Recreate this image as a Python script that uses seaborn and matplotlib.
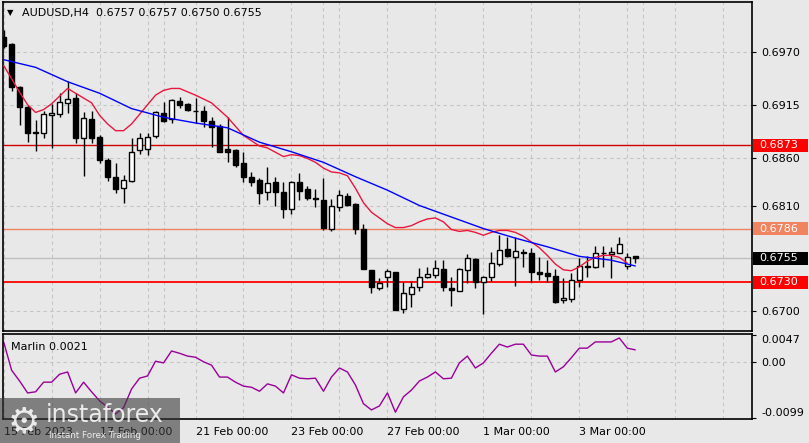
import numpy as np
import pandas as pd
import seaborn as sns
import matplotlib.pyplot as plt
import matplotlib.transforms as mtransforms
from matplotlib.patches import Rectangle

# AUDUSD H4 candles (one per 4 hours, bar 0 = 15 Feb 00:00)
opens = [0.6986, 0.6978, 0.6933, 0.6913, 0.6887, 0.6886, 0.6904, 0.6905, 0.6917, 0.6922,
         0.6880, 0.6900, 0.6881, 0.6857, 0.6840, 0.6828, 0.6836, 0.6868, 0.6869, 0.6882,
         0.6906, 0.6900, 0.6919, 0.6916, 0.6909, 0.6909, 0.6898, 0.6893, 0.6869, 0.6868,
         0.6854, 0.6840, 0.6837, 0.6824, 0.6834, 0.6824, 0.6806, 0.6834, 0.6827, 0.6818,
         0.6816, 0.6786, 0.6808, 0.6820, 0.6812, 0.6786, 0.6743, 0.6724, 0.6736, 0.6741,
         0.6702, 0.6718, 0.6725, 0.6736, 0.6738, 0.6744, 0.6724, 0.6721, 0.6743, 0.6754,
         0.6730, 0.6736, 0.6749, 0.6765, 0.6756, 0.6762, 0.6761, 0.6741, 0.6740, 0.6737,
         0.6711, 0.6713, 0.6732, 0.6747, 0.6746, 0.6761, 0.6759, 0.6761, 0.6747, 0.6757]
highs = [0.6993, 0.6979, 0.6935, 0.6915, 0.6899, 0.6909, 0.6916, 0.6927, 0.6940, 0.6927,
         0.6907, 0.6909, 0.6883, 0.6859, 0.6854, 0.6842, 0.6880, 0.6886, 0.6886, 0.6908,
         0.6918, 0.6921, 0.6923, 0.6917, 0.6922, 0.6914, 0.6902, 0.6895, 0.6902, 0.6869,
         0.6866, 0.6845, 0.6839, 0.6850, 0.6840, 0.6835, 0.6836, 0.6844, 0.6830, 0.6827,
         0.6839, 0.6817, 0.6826, 0.6823, 0.6813, 0.6791, 0.6743, 0.6734, 0.6744, 0.6741,
         0.6730, 0.6731, 0.6745, 0.6746, 0.6753, 0.6753, 0.6735, 0.6745, 0.6759, 0.6755,
         0.6737, 0.6762, 0.6779, 0.6777, 0.6777, 0.6765, 0.6766, 0.6756, 0.6753, 0.6744,
         0.6734, 0.6740, 0.6755, 0.6757, 0.6768, 0.6768, 0.6767, 0.6777, 0.6761, 0.6757]
lows = [0.6974, 0.6929, 0.6894, 0.6876, 0.6867, 0.6880, 0.6870, 0.6902, 0.6906, 0.6875,
        0.6841, 0.6875, 0.6854, 0.6836, 0.6823, 0.6813, 0.6835, 0.6864, 0.6863, 0.6880,
        0.6897, 0.6896, 0.6912, 0.6909, 0.6896, 0.6892, 0.6871, 0.6866, 0.6855, 0.6850,
        0.6835, 0.6830, 0.6812, 0.6816, 0.6809, 0.6797, 0.6801, 0.6816, 0.6816, 0.6808,
        0.6784, 0.6783, 0.6804, 0.6810, 0.6780, 0.6744, 0.6719, 0.6722, 0.6725, 0.6701,
        0.6698, 0.6704, 0.6721, 0.6734, 0.6734, 0.6721, 0.6705, 0.6721, 0.6729, 0.6724,
        0.6697, 0.6731, 0.6747, 0.6756, 0.6726, 0.6746, 0.6730, 0.6732, 0.6730, 0.6708,
        0.6708, 0.6709, 0.6725, 0.6735, 0.6745, 0.6746, 0.6734, 0.6760, 0.6744, 0.6750]
closes = [0.6976, 0.6933, 0.6913, 0.6886, 0.6886, 0.6905, 0.6906, 0.6918, 0.6921, 0.6880,
          0.6901, 0.6880, 0.6857, 0.6840, 0.6827, 0.6837, 0.6866, 0.6880, 0.6881, 0.6907,
          0.6898, 0.6920, 0.6915, 0.6910, 0.6908, 0.6898, 0.6892, 0.6866, 0.6866, 0.6852,
          0.6840, 0.6835, 0.6823, 0.6833, 0.6824, 0.6806, 0.6835, 0.6825, 0.6818, 0.6817,
          0.6787, 0.6810, 0.6821, 0.6811, 0.6785, 0.6744, 0.6725, 0.6729, 0.6742, 0.6701,
          0.6719, 0.6725, 0.6735, 0.6739, 0.6745, 0.6725, 0.6722, 0.6744, 0.6755, 0.6730,
          0.6735, 0.6750, 0.6764, 0.6757, 0.6763, 0.6761, 0.6741, 0.6739, 0.6737, 0.6709,
          0.6714, 0.6732, 0.6747, 0.6746, 0.6760, 0.6760, 0.6762, 0.6770, 0.6756, 0.6755]

# fast (red) and slow (blue) moving averages
red_bars = [0, 2, 3, 4, 5, 6, 8, 9, 11, 12, 13, 14, 15, 16, 18, 19, 20, 21, 22, 24, 26, 28, 30,
            32, 33, 35, 36, 37, 38, 39, 40, 41, 42, 43, 44, 45, 46, 47, 48, 49, 50, 51, 52, 53,
            54, 55, 56, 57, 58, 59, 60, 61, 62, 63, 64, 65, 66, 67, 68, 69, 70, 71, 72, 73, 74,
            75, 76, 77, 78]
red_ma = [0.6956, 0.6928, 0.6915, 0.6907, 0.6910, 0.6916, 0.6932, 0.6927, 0.6917, 0.6904,
          0.6895, 0.6888, 0.6888, 0.6895, 0.6915, 0.6925, 0.6930, 0.6932, 0.6932, 0.6925,
          0.6917, 0.6902, 0.6883, 0.6872, 0.6870, 0.6861, 0.6863, 0.6862, 0.6859, 0.6855,
          0.6849, 0.6845, 0.6844, 0.6841, 0.6828, 0.6813, 0.6803, 0.6797, 0.6791, 0.6787,
          0.6787, 0.6789, 0.6793, 0.6796, 0.6797, 0.6793, 0.6785, 0.6783, 0.6784, 0.6782,
          0.6779, 0.6782, 0.6784, 0.6784, 0.6782, 0.6778, 0.6772, 0.6766, 0.6758, 0.6749,
          0.6743, 0.6742, 0.6746, 0.6752, 0.6756, 0.6758, 0.6758, 0.6756, 0.6750]
blue_bars = [0, 4, 8, 12, 16, 20, 24, 28, 32, 36, 40, 44, 48, 52, 56, 60, 64, 68, 72, 76, 79]
blue_ma = [0.6962, 0.6954, 0.6939, 0.6927, 0.6911, 0.6902, 0.6896, 0.6891, 0.6876, 0.6866,
           0.6855, 0.6840, 0.6826, 0.6810, 0.6798, 0.6786, 0.6776, 0.6767, 0.6757, 0.6753,
           0.6747]

# Marlin oscillator, one value per bar
marlin = [0.0035, -0.0015, -0.0034, -0.0055, -0.0053, -0.0036, -0.0036, -0.0022, -0.0018, -0.0055,
          -0.0036, -0.0053, -0.0069, -0.0080, -0.0092, -0.0081, -0.0048, -0.0029, -0.0025, 0.0001,
          -0.0002, 0.0019, 0.0015, 0.0010, 0.0008, 0.0000, -0.0006, -0.0027, -0.0027, -0.0036,
          -0.0043, -0.0045, -0.0052, -0.0039, -0.0043, -0.0055, -0.0023, -0.0029, -0.0030, -0.0029,
          -0.0052, -0.0027, -0.0011, -0.0018, -0.0041, -0.0074, -0.0085, -0.0078, -0.0055, -0.0089,
          -0.0062, -0.0050, -0.0034, -0.0027, -0.0018, -0.0030, -0.0029, -0.0002, 0.0010, -0.0011,
          -0.0002, 0.0015, 0.0031, 0.0026, 0.0031, 0.0031, 0.0012, 0.0010, 0.0010, -0.0018,
          -0.0009, 0.0007, 0.0024, 0.0024, 0.0035, 0.0035, 0.0035, 0.0042, 0.0024, 0.0021]

price_ticks = [0.6970, 0.6915, 0.6860, 0.6810, 0.6755, 0.6700]
price_labels = ["0.6970", "0.6915", "0.6860", "0.6810", "", "0.6700"]
marlin_ticks = [0.0047, 0.0, -0.0099]
marlin_labels = ["0.0047", "0.00", "-0.0099"]
date_bars = [0, 12, 24, 36, 48, 60, 72]
date_labels = ["15 Feb 2023", "17 Feb 00:00", "21 Feb 00:00", "23 Feb 00:00",
               "27 Feb 00:00", "1 Mar 00:00", "3 Mar 00:00"]
levels = [0.6873, 0.6786, 0.6730]
level_labels = ["0.6873", "0.6786", "0.6730"]
last_price = 0.6755

sns.set_style("white")
plt.rcParams["font.family"] = ["DejaVu Sans"]
plt.rcParams["font.size"] = 8

bg = "#e8e8e8"
fig = plt.figure(figsize=(8.09, 4.43), dpi=100, facecolor=bg)
ax = fig.add_axes([3 / 809, 1 - 331 / 443, 749 / 809, 329 / 443], facecolor=bg)
ax2 = fig.add_axes([3 / 809, 1 - 419 / 443, 749 / 809, 85 / 443], facecolor=bg)

o = np.array(opens); h = np.array(highs); l = np.array(lows); c = np.array(closes)
x = np.arange(len(o))
up = c >= o

dash = (0, (3, 3))
for a in (ax, ax2):
    a.set_xlim(-0.08, 93.6)
    a.set_xticks(np.arange(0, 94, 6), minor=True)
    a.grid(True, which="both", axis="x", color="#c4c4c4", lw=0.8, linestyle=dash)
    for s in a.spines.values():
        s.set_color("black")
        s.set_linewidth(1.2)

# main price panel
ax.set_ylim(0.66792, 0.70221)
ax.yaxis.tick_right()
ax.set_yticks(price_ticks)
ax.set_yticklabels(price_labels)
ax.tick_params(axis="y", length=3, pad=4, labelsize=8, colors="black", direction="out", right=True)
ax.tick_params(axis="x", which="both", bottom=False, labelbottom=False)
ax.grid(True, axis="y", color="#c4c4c4", lw=0.8, linestyle=dash)

ax.axhline(last_price, color="#c0c0c0", lw=1, zorder=1)
ax.axhline(levels[0], color="#d00000", lw=1, zorder=2)
ax.axhline(levels[1], color="#f08360", lw=1, zorder=2)
ax.axhline(levels[2], color="#ff0000", lw=1.3, zorder=2)

ax.vlines(x, l, h, color="black", lw=1, zorder=3)
ax.bar(x[up], np.maximum(c[up] - o[up], 0.00003), bottom=o[up], width=0.62,
       color="white", edgecolor="black", lw=1, zorder=4)
ax.bar(x[~up], o[~up] - c[~up], bottom=c[~up], width=0.62,
       color="black", edgecolor="black", lw=1, zorder=4)

ma = pd.DataFrame({"bar": red_bars, "value": red_ma})
sns.lineplot(data=ma, x="bar", y="value", ax=ax, color="#e8173f", lw=1, zorder=5)
ma2 = pd.DataFrame({"bar": blue_bars, "value": blue_ma})
sns.lineplot(data=ma2, x="bar", y="value", ax=ax, color="#0000ff", lw=1, zorder=5)
ax.set_xlabel("")
ax.set_ylabel("")

# price boxes on the right scale
trans = mtransforms.blended_transform_factory(ax.transAxes, ax.transData)
box_h = 13 * (0.70221 - 0.66792) / 329
boxes = [(levels[0], level_labels[0], "#ff0000"), (levels[1], level_labels[1], "#f08360"),
         (last_price, "0.6755", "#000000"), (levels[2], level_labels[2], "#ff0000")]
for val, txt, col in boxes:
    ax.add_patch(Rectangle((1.0015, val - box_h / 2), 55 / 749, box_h, transform=trans,
                           facecolor=col, edgecolor="none", clip_on=False, zorder=10))
    ax.text(1.0095, val, txt, transform=trans, color="white", fontsize=8,
            va="center", ha="left", zorder=11, clip_on=False)

fig.text(7 / 809, 1 - 13 / 443, "\u25bc", fontsize=6, va="center", ha="left", color="black")
fig.text(22 / 809, 1 - 13 / 443, "AUDUSD,H4  0.6757 0.6757 0.6750 0.6755",
         fontsize=8, va="center", ha="left", color="black")

# Marlin panel
ax2.set_ylim(-0.0101, 0.0049)
ind = pd.DataFrame({"bar": x, "value": marlin})
sns.lineplot(data=ind, x="bar", y="value", ax=ax2, color="#990099", lw=1)
ax2.set_xlabel("")
ax2.set_ylabel("")
ax2.yaxis.tick_right()
ax2.set_yticks(marlin_ticks)
ax2.set_yticklabels(marlin_labels)
ax2.tick_params(axis="y", length=3, pad=4, labelsize=8, colors="black", right=True)
yl = ax2.get_yticklabels()
yl[0].set_va("top")
yl[2].set_va("bottom")
ax2.axhline(0, color="#c4c4c4", lw=0.8, linestyle=dash, zorder=0)
ax2.set_xticks(date_bars)
ax2.set_xticklabels(date_labels)
for t in ax2.get_xticklabels():
    t.set_ha("left")
ax2.tick_params(axis="x", which="major", length=4, pad=2, labelsize=8, colors="black")
ax2.tick_params(axis="x", which="minor", length=0)
ax2.text(8 / 749, 0.9, "Marlin 0.0021", transform=ax2.transAxes, fontsize=8,
         va="top", ha="left", color="black")

# watermark
fig.patches.append(Rectangle((0, 0), 180 / 809, 45 / 443, transform=fig.transFigure,
                             facecolor="#3a3a3a", alpha=0.6, edgecolor="none", zorder=20))
fig.text(24 / 809, 21 / 443, "\u2699", fontsize=26, color="white", alpha=0.85,
         va="center", ha="center", zorder=21)
fig.text(46 / 809, 28 / 443, "instaforex", fontsize=17, color="white", alpha=0.85,
         va="center", ha="left", zorder=21)
fig.text(49 / 809, 7 / 443, "Instant Forex Trading", fontsize=6.3, color="white", alpha=0.85,
         va="center", ha="left", zorder=21)

fig.savefig("out.png", dpi=100, facecolor=bg)
